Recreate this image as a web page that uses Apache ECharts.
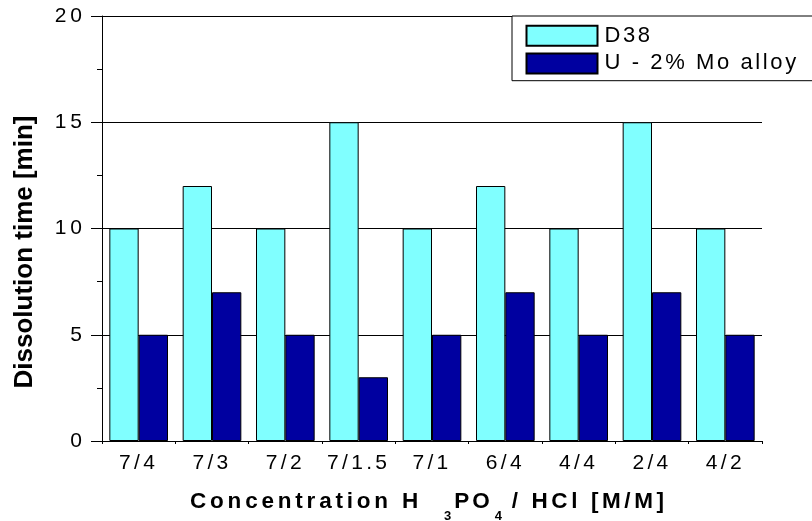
<!DOCTYPE html>
<html><head><meta charset="utf-8">
<script src="https://cdn.jsdelivr.net/npm/echarts@6/dist/echarts.min.js"></script>
<style>html,body{margin:0;padding:0;background:#fff}#c{width:812px;height:521px}</style>
</head><body><div id="c"></div>
<script>
const categories = ['7/4','7/3','7/2','7/1.5','7/1','6/4','4/4','2/4','4/2'];
const d38 = [10,12,10,15,10,12,10,15,10];
const umo = [5,7,5,3,5,7,5,7,5];
const seriesNames = ['D38','U - 2% Mo alloy'];
const yTitle = 'Dissolution time [min]';
const xTitle = 'Concentration H{s3|3}{po|PO}{s4|4}{w| / HCl [M/M]}';

// letter spacing support: a dummy family "LSPnn" in the font list gives nn/10 px spacing
(function(){
  const P = CanvasRenderingContext2D.prototype;
  function ls(ctx){ const m = /LSP(\d+)/.exec(ctx.font || ''); return m ? parseInt(m[1], 10) / 10 : 0; }
  const om = P.measureText;
  P.measureText = function(t){
    if ('letterSpacing' in this) this.letterSpacing = '0px';
    const r = om.call(this, t);
    const s = ls(this);
    if (!s) return r;
    const n = String(t).length;
    return {
      width: r.width + n * s,
      actualBoundingBoxAscent: r.actualBoundingBoxAscent,
      actualBoundingBoxDescent: r.actualBoundingBoxDescent,
      actualBoundingBoxLeft: r.actualBoundingBoxLeft,
      actualBoundingBoxRight: r.actualBoundingBoxRight + n * s,
      fontBoundingBoxAscent: r.fontBoundingBoxAscent,
      fontBoundingBoxDescent: r.fontBoundingBoxDescent
    };
  };
  const of = P.fillText;
  P.fillText = function(t, x, y, mw){
    const s = ls(this);
    const hasLS = 'letterSpacing' in this;
    if (hasLS) this.letterSpacing = '0px';
    if (s && hasLS) {
      const a = this.textAlign;
      const w = om.call(this, t).width + String(t).length * s;
      this.letterSpacing = s + 'px';
      if (a === 'center') x -= w / 2;
      else if (a === 'right' || a === 'end') x -= w;
      this.textAlign = 'left';
      const r = of.call(this, t, x, y);
      this.textAlign = a;
      return r;
    }
    return mw === undefined ? of.call(this, t, x, y) : of.call(this, t, x, y, mw);
  };
})();

function fam(sp){ return '"Liberation Sans", LSP' + sp; }
const chart = echarts.init(document.getElementById('c'));
chart.setOption({
  animation: false,
  backgroundColor: '#fff',
  textStyle: {fontFamily: fam(0)},
  grid: {left: 102, right: 50, top: 16, bottom: 80, containLabel: false, outerBoundsMode: 'none'},
  legend: {
    orient: 'vertical', left: 512, top: 16,
    padding: [7.5, 120, 5, 13.5],
    icon: 'rect',
    itemWidth: 71, itemHeight: 20, itemGap: 3,
    borderColor: '#000', borderWidth: 1, backgroundColor: '#fff',
    textStyle: {fontFamily: fam(26), fontSize: 22, lineHeight: 20, color: '#000', padding: [0,0,0,2]},
    data: seriesNames
  },
  graphic: [{
    type: 'text', x: 25, y: 252, rotation: Math.PI / 2,
    style: {text: yTitle, fill: '#000', fontSize: 26, fontWeight: 'bold', fontFamily: fam(0),
      align: 'center', verticalAlign: 'middle'}
  }, {
    type: 'text', x: 190, y: 502,
    style: {text: xTitle, fill: '#000', fontSize: 22.5, fontWeight: 'bold', fontFamily: fam(38),
      align: 'left', verticalAlign: 'middle',
      rich: {
        s3: {fontSize: 13, fontWeight: 'bold', fontFamily: fam(0), fill: '#000', padding: [29, 3, 0, 22]},
        po: {fontSize: 22.5, fontWeight: 'bold', fontFamily: fam(30), fill: '#000'},
        s4: {fontSize: 13, fontWeight: 'bold', fontFamily: fam(0), fill: '#000', padding: [29, 0, 0, 2]},
        w: {fontSize: 22.5, fontWeight: 'bold', fontFamily: fam(36), fill: '#000'}
      }}
  }],
  xAxis: {
    type: 'category', data: categories,
    axisLine: {lineStyle: {color: '#000', width: 1}},
    axisTick: {show: true, length: 3, lineStyle: {color: '#000'}},
    axisLabel: {color: '#000', fontSize: 21, margin: 10, interval: 0, fontFamily: fam(33)}
  },
  yAxis: {
    type: 'value', min: 0, max: 20, interval: 5,
    axisLine: {show: true, lineStyle: {color: '#000', width: 1}},
    axisTick: {show: true, inside: false, length: 11, lineStyle: {color: '#000'}},
    minorTick: {show: true, splitNumber: 2, length: 5, lineStyle: {color: '#000'}},
    splitLine: {show: true, lineStyle: {color: '#000', width: 1}},
    axisLabel: {color: '#000', fontSize: 21, margin: 16, fontFamily: fam(40)}
  },
  series: [
    {name: seriesNames[0], type: 'bar', data: d38, barGap: '0%', barCategoryGap: '20%',
     itemStyle: {color: '#80FFFF', borderColor: '#000', borderWidth: 1}},
    {name: seriesNames[1], type: 'bar', data: umo,
     itemStyle: {color: '#0000A0', borderColor: '#000', borderWidth: 1}}
  ]
});
</script></body></html>
